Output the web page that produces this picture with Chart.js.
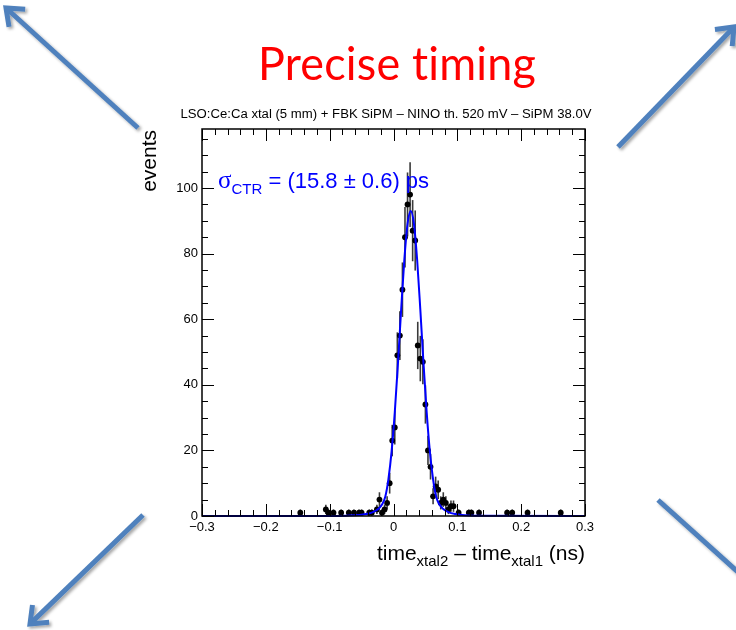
<!DOCTYPE html>
<html>
<head>
<meta charset="utf-8">
<title>Precise timing</title>
<script src="https://cdn.jsdelivr.net/npm/chart.js@4"></script>
<style>
  body { margin: 0; background: #fff; }
  #wrap { position: relative; width: 736px; height: 630px; }
  #ctr-chart { position: absolute; left: 0; top: 0; }
  #arrows { position: absolute; left: 0; top: 0; pointer-events: none; }
</style>
</head>
<body>
<div id="wrap">
  <canvas id="ctr-chart" width="736" height="630"></canvas>
  <svg id="arrows" width="736" height="630"></svg>
</div>
<script>
// time difference histogram (bin centre in ns, events per bin)
const binCenters = [-0.146, -0.106, -0.102, -0.094, -0.082, -0.070, -0.062, -0.054, -0.050, -0.038,
                    -0.034, -0.026, -0.022, -0.018, -0.014, -0.010, -0.006, -0.002, 0.002, 0.006,
                    0.010, 0.014, 0.018, 0.022, 0.026, 0.030, 0.034, 0.038, 0.042, 0.046,
                    0.050, 0.054, 0.058, 0.062, 0.066, 0.070, 0.074, 0.078, 0.082, 0.086,
                    0.090, 0.094, 0.102, 0.118, 0.122, 0.134, 0.178, 0.186, 0.210, 0.262];
const binCounts = [1, 2, 1, 1, 1, 1, 1, 1, 1, 1,
                   1, 2, 5, 1, 2, 4, 10, 23, 27, 49,
                   55, 69, 85, 95, 98, 87, 84, 52, 48, 47,
                   34, 20, 15, 6, 9, 8, 4, 5, 4, 2,
                   3, 3, 1, 1, 1, 1, 1, 1, 1, 1];

// fitted curve, sampled along x
const fitX = [-0.3, -0.1, -0.073, -0.053, -0.043, -0.033, -0.023, -0.018, -0.013, -0.008,
              -0.003, 0.002, 0.007, 0.012, 0.017, 0.022, 0.027, 0.032, 0.037, 0.042,
              0.047, 0.052, 0.057, 0.062, 0.067, 0.072, 0.077, 0.087, 0.097, 0.107, 0.127, 0.3];
const fitY = [0, 0, 0.1, 0.3, 0.6, 1.1, 2.3, 3.5, 5.8, 11.2,
              19.6, 31.6, 46.6, 63, 78.2, 89.1, 93, 89.1, 78.2, 63,
              46.6, 31.6, 19.6, 11.2, 5.8, 3.5, 2.3, 1.1, 0.6, 0.3, 0.1, 0];

const xTickValues = [-0.3, -0.2, -0.1, 0, 0.1, 0.2, 0.3];
const xTickLabels = ['\u22120.3', '\u22120.2', '\u22120.1', '0', '0.1', '0.2', '0.3'];
const yTickValues = [0, 20, 40, 60, 80, 100];
const yTickLabels = ['0', '20', '40', '60', '80', '100'];

const HELV = '"Liberation Sans", Arial, sans-serif';

// vertical sqrt(N) error bars under the markers
const errorBars = {
  id: 'errorBars',
  beforeDatasetsDraw(chart) {
    const { ctx, chartArea: a, scales: { x, y } } = chart;
    ctx.save();
    ctx.beginPath();
    ctx.rect(a.left, a.top, a.right - a.left, a.bottom - a.top);
    ctx.clip();
    ctx.strokeStyle = '#3a3a3a';
    ctx.lineWidth = 1.6;
    binCenters.forEach((c, i) => {
      const n = binCounts[i];
      const e = Math.sqrt(n);
      const px = x.getPixelForValue(c);
      ctx.beginPath();
      ctx.moveTo(px, y.getPixelForValue(n - e));
      ctx.lineTo(px, y.getPixelForValue(n + e));
      ctx.stroke();
    });
    ctx.restore();
  }
};

// box frame with inward ticks on all four sides
const frameTicks = {
  id: 'frameTicks',
  afterDatasetsDraw(chart) {
    const { ctx, chartArea: a, scales: { x, y } } = chart;
    ctx.save();
    ctx.strokeStyle = '#000';
    ctx.lineWidth = 1;
    for (let i = 0; i <= 30; i++) {
      const px = Math.round(x.getPixelForValue(-0.3 + i * 0.02)) + 0.5;
      const len = i % 5 === 0 ? 12 : 6;
      ctx.beginPath();
      ctx.moveTo(px, a.bottom); ctx.lineTo(px, a.bottom - len);
      ctx.moveTo(px, a.top); ctx.lineTo(px, a.top + len);
      ctx.stroke();
    }
    for (let v = 0; v <= 115; v += 5) {
      const py = Math.round(y.getPixelForValue(v)) + 0.5;
      const len = v % 20 === 0 ? 12 : 6;
      ctx.beginPath();
      ctx.moveTo(a.left, py); ctx.lineTo(a.left + len, py);
      ctx.moveTo(a.right, py); ctx.lineTo(a.right - len, py);
      ctx.stroke();
    }
    ctx.lineWidth = 1.5;
    ctx.strokeRect(a.left, a.top, a.right - a.left, a.bottom - a.top);
    ctx.restore();
  }
};

// draws a run of text pieces with their own fonts and baseline shifts
function measureRuns(ctx, runs) {
  return runs.reduce((w, r) => { ctx.font = r.font; return w + ctx.measureText(r.text).width; }, 0);
}
function drawRuns(ctx, x, y, runs) {
  runs.forEach(r => {
    ctx.font = r.font;
    ctx.fillText(r.text, x, y + (r.dy || 0));
    x += ctx.measureText(r.text).width;
  });
}
function fitText(ctx, text, font, cx, y, width) {
  ctx.save();
  ctx.font = font;
  const sx = width / ctx.measureText(text).width;
  ctx.translate(cx, y);
  ctx.scale(sx, 1);
  ctx.textAlign = 'center';
  ctx.fillText(text, 0, 0);
  ctx.restore();
}

const textLayer = {
  id: 'textLayer',
  afterDraw(chart) {
    const { ctx, chartArea: a } = chart;
    ctx.save();
    ctx.textBaseline = 'alphabetic';

    ctx.fillStyle = '#ff0000';
    ctx.letterSpacing = '0.2px';
    fitText(ctx, 'Precise timing', '46px Lato, "Open Sans", sans-serif', 397, 80, 278);
    ctx.letterSpacing = '0px';

    ctx.fillStyle = '#000';
    fitText(ctx, 'LSO:Ce:Ca xtal (5 mm) + FBK SiPM \u2013 NINO th. 520 mV \u2013 SiPM 38.0V',
            '12.5px ' + HELV, 386, 118, 411);

    // y title, right aligned to the top of the axis
    ctx.save();
    ctx.translate(156, a.top + 1);
    ctx.rotate(-Math.PI / 2);
    ctx.font = '21px ' + HELV;
    ctx.textAlign = 'right';
    ctx.fillText('events', 0, 0);
    ctx.restore();

    // x title with subscripts, right aligned to the axis end
    const main = '21px ' + HELV, sub = '15px ' + HELV;
    const xRuns = [
      { text: 'time', font: main }, { text: 'xtal2', font: sub, dy: 6 },
      { text: ' \u2013 time', font: main }, { text: 'xtal1', font: sub, dy: 6 },
      { text: ' (ns)', font: main }
    ];
    ctx.textAlign = 'left';
    drawRuns(ctx, a.right - measureRuns(ctx, xRuns), 560, xRuns);

    // resolution from the fit
    ctx.fillStyle = '#0000ff';
    drawRuns(ctx, 218, 188, [
      { text: '\u03c3', font: '25px "Liberation Serif", serif' },
      { text: 'CTR', font: '15px ' + HELV, dy: 6 },
      { text: ' = (15.8 \u00b1 0.6) ps', font: '22px ' + HELV }
    ]);
    ctx.restore();
  }
};

new Chart(document.getElementById('ctr-chart').getContext('2d'), {
  type: 'scatter',
  data: {
    datasets: [{
      label: 'fit',
      data: fitX.map((x, i) => ({ x, y: fitY[i] })),
      showLine: true,
      borderColor: '#0000ff',
      borderWidth: 2,
      pointRadius: 0,
      cubicInterpolationMode: 'monotone',
      clip: 3,
      order: 0
    }, {
      label: 'events',
      data: binCenters.map((x, i) => ({ x, y: binCounts[i] })),
      pointRadius: 2.9,
      pointBackgroundColor: '#000',
      pointBorderWidth: 0,
      order: 1
    }]
  },
  options: {
    responsive: false,
    animation: false,
    devicePixelRatio: 1,
    layout: { padding: { left: 162, right: 151, top: 129, bottom: 84 } },
    plugins: { legend: { display: false }, tooltip: { enabled: false } },
    scales: {
      x: {
        type: 'linear', min: -0.3, max: 0.3,
        afterBuildTicks: s => { s.ticks = xTickValues.map(v => ({ value: v })); },
        afterFit: s => { s.height = 30; },
        grid: { display: false, drawTicks: false },
        border: { display: false },
        ticks: {
          autoSkip: false, maxRotation: 0, padding: 4, color: '#000',
          font: { family: HELV, size: 13 },
          callback: (v, i) => xTickLabels[i]
        }
      },
      y: {
        type: 'linear', min: 0, max: 118,
        afterBuildTicks: s => { s.ticks = yTickValues.map(v => ({ value: v })); },
        afterFit: s => { s.width = 40; },
        grid: { display: false, drawTicks: false },
        border: { display: false },
        ticks: {
          autoSkip: false, padding: 4, color: '#000',
          font: { family: HELV, size: 13 },
          callback: (v, i) => yTickLabels[i]
        }
      }
    }
  },
  plugins: [errorBars, frameTicks, textLayer]
});

// slide decoration: four blue arrows pointing to the corners
const arrowSvg = document.getElementById('arrows');
const arrowLines = [
  [138, 128, 6, 8],
  [618, 147, 734, 27],
  [143, 515, 30, 624],
  [658, 500, 760, 592]
];
let svgBody = '<defs><filter id="sh" x="-30%" y="-30%" width="160%" height="160%">' +
  '<feDropShadow dx="2" dy="2" stdDeviation="1.5" flood-color="#000" flood-opacity="0.35"/></filter></defs>' +
  '<g stroke="#4f81bd" stroke-width="5" fill="none" filter="url(#sh)">';
arrowLines.forEach(([x1, y1, x2, y2]) => {
  const d = Math.hypot(x2 - x1, y2 - y1), ux = (x2 - x1) / d, uy = (y2 - y1) / d;
  const bx = x2 - ux * 15, by = y2 - uy * 15;
  const px = -uy * 12, py = ux * 12;
  svgBody += `<line x1="${x1}" y1="${y1}" x2="${x2 - ux * 3}" y2="${y2 - uy * 3}"/>`;
  svgBody += `<polyline points="${bx + px},${by + py} ${x2},${y2} ${bx - px},${by - py}" stroke-linejoin="miter"/>`;
});
arrowSvg.innerHTML = svgBody + '</g>';
</script>
</body>
</html>
